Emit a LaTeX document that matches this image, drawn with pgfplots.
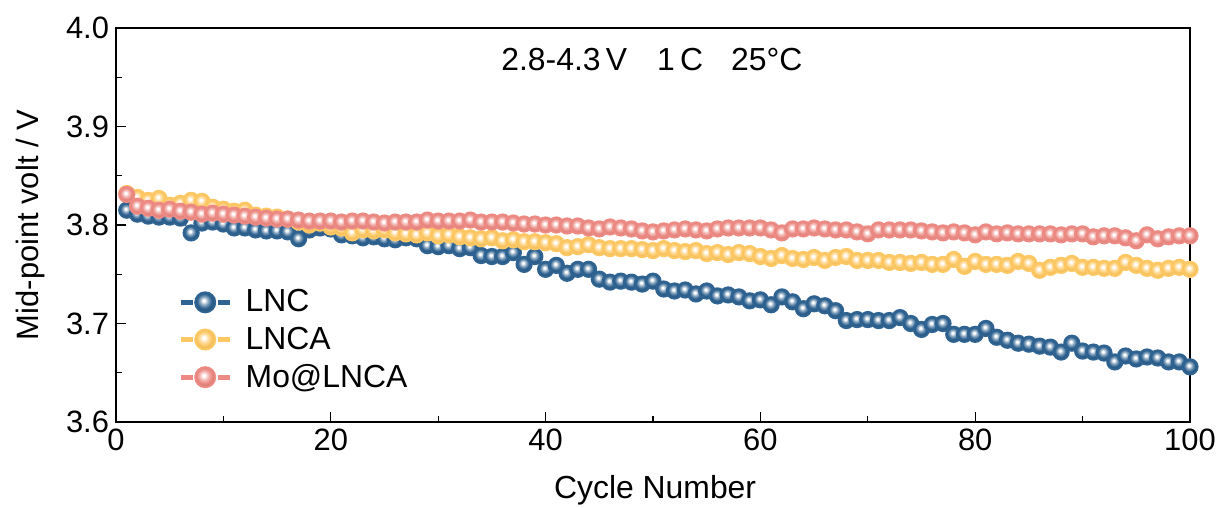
\documentclass[border=0pt]{standalone}
\usepackage{pgfplots}
\pgfplotsset{compat=1.18}
\usepackage{fontspec}
\setmainfont{Liberation Sans}
\definecolor{cLNC}{RGB}{47,99,145}
\definecolor{cLNCA}{RGB}{253,200,100}
\definecolor{cMo}{RGB}{236,138,131}
\pgfdeclareradialshading{shLNC}{\pgfpoint{-4bp}{5bp}}{color(0bp)=(white); color(3bp)=(white); color(10bp)=(cLNC!55!white); color(18bp)=(cLNC); color(27bp)=(cLNC!75!black); color(50bp)=(cLNC!75!black)}
\pgfdeclareradialshading{shLNCA}{\pgfpoint{-4bp}{5bp}}{color(0bp)=(white); color(3bp)=(white); color(10bp)=(cLNCA!55!white); color(18bp)=(cLNCA); color(27bp)=(cLNCA!88!black); color(50bp)=(cLNCA!88!black)}
\pgfdeclareradialshading{shMo}{\pgfpoint{-4bp}{5bp}}{color(0bp)=(white); color(3bp)=(white); color(10bp)=(cMo!55!white); color(18bp)=(cMo); color(27bp)=(cMo!85!black); color(50bp)=(cMo!85!black)}
\pgfdeclareplotmark{ballLNC}{\shade[shading=shLNC] (0pt,0pt) circle (\pgfplotmarksize);}
\pgfdeclareplotmark{ballLNCA}{\shade[shading=shLNCA] (0pt,0pt) circle (\pgfplotmarksize);}
\pgfdeclareplotmark{ballMo}{\shade[shading=shMo] (0pt,0pt) circle (\pgfplotmarksize);}
\begin{document}
\begin{tikzpicture}
\begin{axis}[
  scale only axis,
  width=537bp, height=197bp,
  xmin=0, xmax=100, ymin=3.6, ymax=4.0,
  xtick distance=20, minor x tick num=1,
  ytick distance=0.1, minor y tick num=1,
  tick pos=left, tick align=inside,
  major tick length=5bp, minor tick length=3bp,
  every tick/.style={black, line width=0.6bp},
  axis line style={line width=0.8bp},
  /pgf/number format/assume math mode=true,
  yticklabel style={/pgf/number format/.cd, fixed, fixed zerofill, precision=1},
  tick label style={font=\fontsize{15.5}{18}\selectfont},
  xlabel={Cycle Number}, ylabel={Mid-point volt / V},
  xlabel style={font=\fontsize{16}{19}\selectfont, at={(axis description cs:0.502,-0.1726)}, anchor=center},
  ylabel style={font=\fontsize{15.5}{19}\selectfont, at={(axis description cs:-0.080,0.5)}, anchor=center},
  legend style={draw=none, fill=none, at={(0.052,0.357)}, anchor=north west,
    font=\fontsize{16}{18.75}\selectfont, row sep=2bp},
  legend cell align=left,
  legend image code/.code={
    \draw[#1, solid, line width=2.5bp] (0bp,0bp)--(6bp,0bp) (18.5bp,0bp)--(24.5bp,0bp);
    \draw[#1, mark size=5bp] plot coordinates {(12.25bp,0bp)};
    \path (30bp,0bp);},
]
\addplot[color=cLNC, line width=1bp, dash pattern=on 4bp off 3bp, mark=ballLNC, mark size=3.8bp, mark options={solid}] coordinates {
(1,3.815)(2,3.811)(3,3.809)(4,3.808)(5,3.808)(6,3.807)(7,3.792)(8,3.802)(9,3.803)(10,3.801)
(11,3.797)(12,3.797)(13,3.795)(14,3.794)(15,3.794)(16,3.793)(17,3.786)(18,3.795)(19,3.797)(20,3.796)
(21,3.790)(22,3.789)(23,3.787)(24,3.788)(25,3.786)(26,3.785)(27,3.787)(28,3.786)(29,3.779)(30,3.778)
(31,3.779)(32,3.776)(33,3.777)(34,3.769)(35,3.768)(36,3.768)(37,3.772)(38,3.760)(39,3.768)(40,3.755)
(41,3.759)(42,3.751)(43,3.755)(44,3.755)(45,3.745)(46,3.742)(47,3.743)(48,3.742)(49,3.740)(50,3.743)
(51,3.735)(52,3.733)(53,3.734)(54,3.730)(55,3.733)(56,3.728)(57,3.729)(58,3.727)(59,3.723)(60,3.724)
(61,3.719)(62,3.727)(63,3.722)(64,3.715)(65,3.720)(66,3.718)(67,3.713)(68,3.703)(69,3.704)(70,3.704)
(71,3.703)(72,3.703)(73,3.706)(74,3.700)(75,3.694)(76,3.699)(77,3.700)(78,3.689)(79,3.689)(80,3.689)
(81,3.695)(82,3.686)(83,3.683)(84,3.680)(85,3.679)(86,3.677)(87,3.676)(88,3.671)(89,3.680)(90,3.672)
(91,3.671)(92,3.670)(93,3.661)(94,3.667)(95,3.664)(96,3.666)(97,3.665)(98,3.661)(99,3.661)(100,3.656)
};
\addlegendentry{LNC}
\addplot[color=cLNCA, line width=1bp, dash pattern=on 4bp off 3bp, mark=ballLNCA, mark size=3.8bp, mark options={solid}] coordinates {
(1,3.832)(2,3.828)(3,3.825)(4,3.827)(5,3.820)(6,3.822)(7,3.825)(8,3.824)(9,3.818)(10,3.816)
(11,3.814)(12,3.815)(13,3.810)(14,3.809)(15,3.808)(16,3.806)(17,3.803)(18,3.800)(19,3.802)(20,3.798)
(21,3.797)(22,3.792)(23,3.795)(24,3.794)(25,3.795)(26,3.792)(27,3.791)(28,3.790)(29,3.792)(30,3.789)
(31,3.790)(32,3.788)(33,3.787)(34,3.786)(35,3.787)(36,3.784)(37,3.785)(38,3.783)(39,3.783)(40,3.782)
(41,3.781)(42,3.777)(43,3.778)(44,3.780)(45,3.777)(46,3.776)(47,3.776)(48,3.776)(49,3.775)(50,3.774)
(51,3.776)(52,3.774)(53,3.773)(54,3.774)(55,3.771)(56,3.772)(57,3.770)(58,3.772)(59,3.771)(60,3.768)
(61,3.766)(62,3.769)(63,3.766)(64,3.765)(65,3.767)(66,3.764)(67,3.767)(68,3.768)(69,3.764)(70,3.764)
(71,3.764)(72,3.762)(73,3.762)(74,3.761)(75,3.762)(76,3.760)(77,3.760)(78,3.765)(79,3.758)(80,3.763)
(81,3.760)(82,3.760)(83,3.759)(84,3.763)(85,3.761)(86,3.754)(87,3.757)(88,3.759)(89,3.761)(90,3.757)
(91,3.757)(92,3.756)(93,3.756)(94,3.762)(95,3.759)(96,3.756)(97,3.754)(98,3.756)(99,3.757)(100,3.755)
};
\addlegendentry{LNCA}
\addplot[color=cMo, line width=1bp, dash pattern=on 4bp off 3bp, mark=ballMo, mark size=3.8bp, mark options={solid}] coordinates {
(1,3.831)(2,3.819)(3,3.817)(4,3.815)(5,3.816)(6,3.814)(7,3.813)(8,3.811)(9,3.812)(10,3.811)
(11,3.810)(12,3.809)(13,3.808)(14,3.807)(15,3.806)(16,3.806)(17,3.805)(18,3.804)(19,3.804)(20,3.804)
(21,3.803)(22,3.804)(23,3.804)(24,3.803)(25,3.802)(26,3.803)(27,3.803)(28,3.803)(29,3.805)(30,3.804)
(31,3.804)(32,3.804)(33,3.805)(34,3.803)(35,3.803)(36,3.803)(37,3.802)(38,3.801)(39,3.801)(40,3.800)
(41,3.800)(42,3.799)(43,3.799)(44,3.797)(45,3.796)(46,3.798)(47,3.797)(48,3.796)(49,3.794)(50,3.793)
(51,3.794)(52,3.795)(53,3.796)(54,3.795)(55,3.794)(56,3.796)(57,3.797)(58,3.797)(59,3.797)(60,3.797)
(61,3.795)(62,3.792)(63,3.796)(64,3.796)(65,3.797)(66,3.796)(67,3.795)(68,3.795)(69,3.793)(70,3.791)
(71,3.795)(72,3.795)(73,3.795)(74,3.795)(75,3.794)(76,3.793)(77,3.792)(78,3.793)(79,3.792)(80,3.790)
(81,3.793)(82,3.791)(83,3.792)(84,3.791)(85,3.791)(86,3.791)(87,3.791)(88,3.790)(89,3.791)(90,3.791)
(91,3.788)(92,3.789)(93,3.789)(94,3.787)(95,3.784)(96,3.790)(97,3.786)(98,3.788)(99,3.789)(100,3.789)
};
\addlegendentry{Mo@LNCA}
\node[font=\fontsize{16}{19}\selectfont] at (axis cs:49.9,3.9675) {2.8-4.3\,V\hspace{15bp}1\,C\hspace{14bp}25°C};
\end{axis}
\pgfresetboundingbox
\path (current axis.south west) ++(-58bp,-43bp) rectangle ([xshift=16.5bp,yshift=14bp]current axis.north east);
\end{tikzpicture}
\end{document}
